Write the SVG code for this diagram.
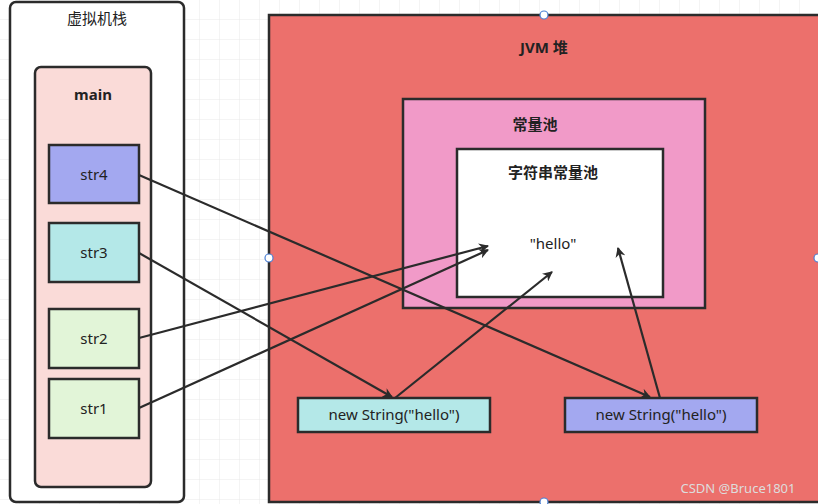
<svg xmlns="http://www.w3.org/2000/svg" width="818" height="504" viewBox="0 0 818 504">
<defs>
<pattern id="g" width="20" height="20" patternUnits="userSpaceOnUse"><path d="M20 0V20H0" fill="none" stroke="#e8e8e8" stroke-width="1"/></pattern>
<marker id="a" markerWidth="10" markerHeight="10" refX="9" refY="5" orient="auto" markerUnits="userSpaceOnUse"><path d="M0,0 L10,5 L0,10 L3,5 Z" fill="#2b2b2b"/></marker>
<style>
.b{stroke:#2b2b2b;stroke-width:2.5}
.t{font-family:"Noto Sans","Noto Sans CJK SC",sans-serif;font-size:15px;fill:#222;text-anchor:middle}
.h{font-weight:bold}
.c{fill:none;stroke:#2b2b2b;stroke-width:2.2;marker-end:url(#a)}
</style>
</defs>
<rect width="818" height="504" fill="#fff"/>
<rect width="818" height="504" fill="url(#g)"/>
<g id="stack"><rect x="10" y="2" width="174" height="500" rx="6" fill="#fff" class="b"/><text x="97" y="24" class="t">虚拟机栈</text></g>
<g id="main"><rect x="35" y="67" width="116" height="420" rx="6" fill="#fadbd8" class="b"/><text x="93" y="100" class="t h">main</text></g>
<g id="str4"><rect x="49" y="145" width="90" height="58" fill="#a3a8f0" class="b"/><text x="94" y="180" class="t">str4</text></g>
<g id="str3"><rect x="49" y="223" width="90" height="59" fill="#b4e8e8" class="b"/><text x="94" y="258" class="t">str3</text></g>
<g id="str2"><rect x="49" y="309" width="90" height="59" fill="#e2f5d8" class="b"/><text x="94" y="344" class="t">str2</text></g>
<g id="str1"><rect x="49" y="379" width="90" height="59" fill="#e2f5d8" class="b"/><text x="94" y="414" class="t">str1</text></g>
<g id="heap"><rect x="269" y="15" width="560" height="487" fill="#ec706c" class="b"/><text x="544" y="53" class="t h">JVM 堆</text>
<g fill="#fff" stroke="#4a7fd4" stroke-width="1.2"><circle cx="544" cy="15" r="4"/><circle cx="269" cy="258" r="4"/><circle cx="818" cy="258" r="4"/><circle cx="544" cy="502" r="4"/></g></g>
<g id="pool"><rect x="403" y="99" width="302" height="209" fill="#f19ac8" class="b"/><text x="535" y="130" class="t h">常量池</text></g>
<g id="spool"><rect x="457" y="149" width="206" height="148" fill="#fff" class="b"/><text x="553" y="178" class="t h">字符串常量池</text><text x="553" y="249" class="t">"hello"</text></g>
<g id="ns1"><rect x="298" y="398" width="192" height="34" fill="#b4e8e8" class="b"/><text x="394" y="420" class="t">new String("hello")</text></g>
<g id="ns2"><rect x="565" y="398" width="192" height="34" fill="#a3a8f0" class="b"/><text x="661" y="420" class="t">new String("hello")</text></g>
<g id="connectors">
<path class="c" d="M139 175 L650 397"/>
<path class="c" d="M139 253 L392 397"/>
<path class="c" d="M139 338 L488 246"/>
<path class="c" d="M139 408 L488 250"/>
<path class="c" d="M395 398 L552 272"/>
<path class="c" d="M660 398 L618 248"/>
</g>
<text x="738" y="493" style="font-family:'Noto Sans',sans-serif;font-size:13px;fill:#ddd;text-anchor:middle">CSDN @Bruce1801</text>
</svg>
